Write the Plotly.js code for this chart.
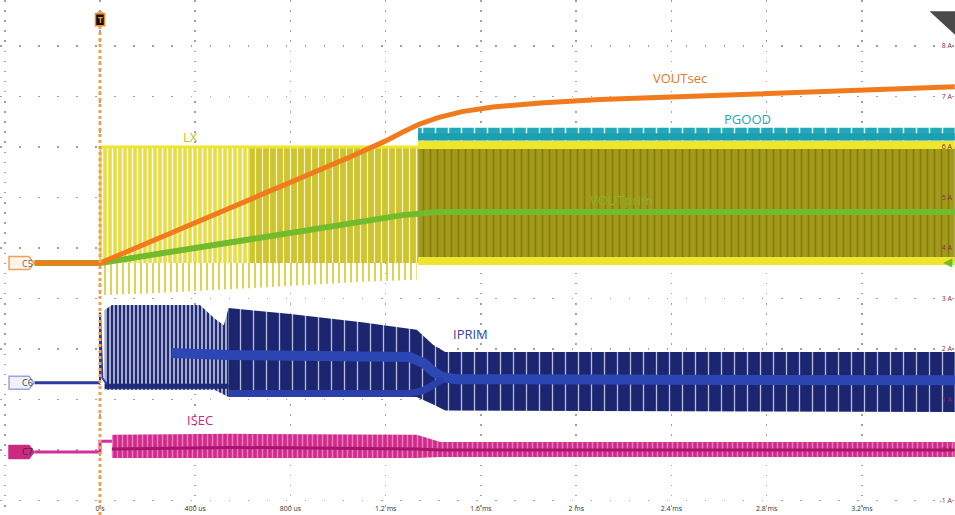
<!DOCTYPE html>
<html><head><meta charset="utf-8">
<script src="https://cdn.plot.ly/plotly-3.0.1.min.js"></script>
<style>html,body{margin:0;padding:0;background:#fff;}#chart{width:955px;height:515px;}</style>
</head><body><div id="chart"></div>
<script>
// time in ms, level in grid units of the right-hand scale
const xTickVals = [-0.4, 0, 0.4, 0.8, 1.2, 1.6, 2.0, 2.4, 2.8, 3.2];
const xTickText = ['', '0 s', '400 us', '800 us', '1.2 ms', '1.6 ms', '2 ms', '2.4 ms', '2.8 ms', '3.2 ms'];
const yTickVals = [-1, 0, 1, 2, 3, 4, 5, 6, 7, 8];
const yTickText = ['-1 A', '0 A', '1 A', '2 A', '3 A', '4 A', '5 A', '6 A', '7 A', '8 A'];

// VOUTsec (C5)
const voutSecT = [-0.275, 0, 1.05, 1.13, 1.20, 1.27, 1.34, 1.42, 1.52, 1.65, 1.85, 2.10, 2.52, 2.94, 3.36, 3.59];
const voutSecV = [3.70, 3.70, 5.80, 5.96, 6.12, 6.29, 6.45, 6.58, 6.70, 6.79, 6.87, 6.94, 7.01, 7.07, 7.15, 7.19];

// VOUTprim
const voutPrimT = [-0.275, 0, 1.27, 1.32, 1.37, 1.42, 3.59];
const voutPrimV = [3.70, 3.70, 4.65, 4.68, 4.70, 4.71, 4.71];

// PGOOD
const pgoodT = [1.336, 3.59];
const pgoodTopV = [6.38, 6.38];
const pgoodBotV = [6.13, 6.13];

// LX switching envelope, split in regions of different density
const lxRegionT = [0.0, 0.63, 1.336, 3.59];
const lxTopV = [6.00, 6.00, 6.00, 6.00];
const lxBotV = [3.70, 3.70, 3.70, 3.70];
const lxRingT = [0.01, 0.2, 0.5, 0.8, 1.1, 1.33];
const lxRingV = [3.07, 3.10, 3.17, 3.25, 3.33, 3.37];

// IPRIM (C6)
const iprimBaseT = [-0.275, 0.0];
const iprimBaseV = [1.33, 1.33];
const iprimSpikeT = [0.0, 0.0, 0.01, 0.03];
const iprimSpikeV = [1.33, 2.72, 1.42, 1.30];
const iprimT = [0.02, 0.05, 0.42, 0.48, 0.52, 0.54, 0.80, 1.10, 1.33, 1.40, 1.45, 3.59];
const iprimTopV = [2.77, 2.87, 2.87, 2.61, 2.47, 2.81, 2.69, 2.53, 2.38, 2.08, 1.94, 1.94];
const iprimBotV = [1.19, 1.19, 1.19, 1.19, 1.10, 1.05, 1.05, 1.05, 1.05, 0.90, 0.78, 0.75];
const iprimBandT = [0.30, 0.54, 1.30, 1.36, 1.40, 1.44, 1.50, 3.59];
const iprimBandV = [1.92, 1.88, 1.84, 1.72, 1.55, 1.44, 1.40, 1.38];
const iprimBand2T = [0.54, 1.30, 1.36, 1.40, 1.44];
const iprimBand2V = [1.12, 1.12, 1.18, 1.30, 1.40];

// ISEC (C7)
const isecBaseT = [-0.275, 0.0, 0.0, 0.05];
const isecBaseV = [-0.04, -0.04, 0.17, 0.17];
const isecT = [0.05, 0.55, 1.33, 1.43, 3.59];
const isecTopV = [0.30, 0.32, 0.30, 0.16, 0.16];
const isecBotV = [-0.16, -0.16, -0.16, -0.14, -0.14];
const isecMidV = [0.02, 0.05, 0.02, 0.0, 0.0];

// channel badges
const badgeNames = ['C5', 'C6', 'C7'];
const badgeLevels = [3.70, 1.33, -0.04];
const badgeFill = ['#fff4e8', '#eef0fa', '#cc2a80'];
const badgeLine = ['#f0a060', '#9aa4d8', '#cc2a80'];
const badgeText = ['#666666', '#444444', '#333333'];

function band(t, top, bot, i0, i1) {
  const x = [], y = [];
  for (let i = i0; i <= i1; i++) { x.push(t[i]); y.push(top[i]); }
  for (let i = i1; i >= i0; i--) { x.push(t[i]); y.push(bot[i]); }
  return {x, y};
}
function fillTrace(b, pattern) {
  return {type: 'scatter', mode: 'lines', x: b.x, y: b.y, fill: 'toself', line: {width: 0},
    fillcolor: pattern.bgcolor, fillpattern: pattern, hoverinfo: 'skip'};
}
function lineTrace(x, y, color, width) {
  return {type: 'scatter', mode: 'lines', x, y, line: {color, width}, hoverinfo: 'skip'};
}

const traces = [];
// LX
const lxStyles = [
  {shape: '|', bgcolor: '#e6de44', fgcolor: '#ffffff', size: 5, solidity: 0.28},
  {shape: '|', bgcolor: '#cdc430', fgcolor: '#f6f2c8', size: 7, solidity: 0.18},
  {shape: '|', bgcolor: '#a39a1a', fgcolor: '#867d10', size: 7, solidity: 0.25}
];
for (let i = 0; i < lxRegionT.length - 1; i++) {
  traces.push(fillTrace(band(lxRegionT, lxTopV, lxBotV, i, i + 1), lxStyles[i]));
}
const ringX = lxRingT.concat(lxRingT.slice().reverse());
const ringY = lxRingV.concat(lxRingV.map(() => 3.70));
traces.push({type: 'scatter', mode: 'lines', x: ringX, y: ringY, fill: 'toself', line: {width: 0},
  fillcolor: 'rgba(0,0,0,0)', fillpattern: {shape: '|', bgcolor: 'rgba(255,255,255,0)', fgcolor: '#d8d040', size: 6, solidity: 0.3}, hoverinfo: 'skip'});
traces.push(lineTrace([0, 0], [3.70, 6.0], '#e6de2a', 2));
traces.push(lineTrace([lxRegionT[0], lxRegionT[2]], [6.0, 6.0], '#eee62a', 3));
traces.push(lineTrace([lxRegionT[2], lxRegionT[3]], [6.04, 6.04], '#eee62a', 8));
traces.push(lineTrace([lxRegionT[2], lxRegionT[3]], [3.74, 3.74], '#eee62a', 8));

// PGOOD
traces.push(fillTrace(band(pgoodT, pgoodTopV, pgoodBotV, 0, 1), {shape: '|', bgcolor: '#22a8b8', fgcolor: '#d8f0f2', size: 13, solidity: 0.12}));
traces.push(lineTrace(pgoodT, pgoodBotV.map(v => v + 0.07), '#1c9fb0', 7));
// VOUTprim
traces.push(lineTrace(voutPrimT, voutPrimV, '#72bb2c', 6));
// VOUTsec
traces.push(lineTrace(voutSecT, voutSecV, '#f07a1c', 5));

// IPRIM
traces.push(fillTrace(band(iprimT, iprimTopV, iprimBotV, 0, 5), {shape: '|', bgcolor: '#1e2a78', fgcolor: '#ffffff', size: 4, solidity: 0.3}));
traces.push(fillTrace(band(iprimT, iprimTopV, iprimBotV, 5, iprimT.length - 1), {shape: '|', bgcolor: '#1c2670', fgcolor: '#b8bcd8', size: 13, solidity: 0.1}));
traces.push(lineTrace(iprimBaseT, iprimBaseV, '#2a3c9c', 3));
traces.push(lineTrace(iprimSpikeT, iprimSpikeV, '#2a3c9c', 2));
traces.push(lineTrace(iprimBandT, iprimBandV, '#2c46b4', 10));
traces.push(lineTrace(iprimBand2T, iprimBand2V, '#2a40a8', 7));
traces.push(lineTrace(iprimT.slice(0, 6), iprimT.slice(0, 6).map(() => 1.26), '#1e2a78', 5));

// ISEC
traces.push(fillTrace(band(isecT, isecTopV, isecBotV, 0, isecT.length - 1), {shape: '|', bgcolor: '#d02a8c', fgcolor: '#e87cb8', size: 5, solidity: 0.3}));
traces.push(lineTrace(isecT, isecMidV, '#a8166a', 3));
traces.push(lineTrace(isecBaseT, isecBaseV, '#d0309a', 3));

const yMin = -1.288, yMax = 8.91;
const shapes = [
  {type: 'line', xref: 'x', yref: 'y', x0: 0, x1: 0, y0: yMin, y1: 8.40, line: {color: '#f0a050', width: 3, dash: 'dot'}, layer: 'above'},
  {type: 'rect', xref: 'x', yref: 'y', x0: -0.019, x1: 0.019, y0: 8.40, y1: 8.64, fillcolor: '#111', line: {color: '#f08a30', width: 1.5}, layer: 'above'},
  {type: 'path', xref: 'x', yref: 'y', path: 'M -0.017 8.66 L 0.017 8.66 L 0 8.70 Z', fillcolor: '#f08a30', line: {width: 0}, layer: 'above'},
  {type: 'path', xref: 'paper', yref: 'paper', path: 'M 0.976 0.976 L 1 0.976 L 1 0.935 Z', fillcolor: '#4a4a4a', line: {color: '#4a4a4a', width: 2}, layer: 'above'}
];
const F = 'Open Sans, Liberation Sans, sans-serif';
const annotations = [
  {x: 2.436, y: 7.37, text: 'VOUTsec', showarrow: false, font: {family: F, size: 13, color: '#e8761e'}},
  {x: 2.72, y: 6.55, text: 'PGOOD', showarrow: false, font: {family: F, size: 13, color: '#22a8b8'}},
  {x: 0.378, y: 6.20, text: 'LX', showarrow: false, font: {family: F, size: 13, color: '#c8be2c'}},
  {x: 2.19, y: 4.95, text: 'VOUTprim', showarrow: false, font: {family: F, size: 13, color: '#86b42c'}},
  {x: 1.554, y: 2.30, text: 'IPRIM', showarrow: false, font: {family: F, size: 13, color: '#3448a8'}},
  {x: 0.42, y: 0.59, text: 'ISEC', showarrow: false, font: {family: F, size: 13, color: '#c8287a'}},
  {x: 0, y: 8.52, text: '<b>T</b>', showarrow: false, font: {family: F, size: 8, color: '#f0a050'}},
  {xref: 'paper', yref: 'y', x: 1, y: 3.72, text: '◀', showarrow: false, xanchor: 'right', font: {family: 'DejaVu Sans', size: 12, color: '#72bb2c'}}
];
// pentagon badges: left edge 9px, body to 29px, tip at 34px, half height 6.5px
const px = 1 / 955, unit = 1 / 50.5;
badgeNames.forEach((name, i) => {
  const y = badgeLevels[i], h = 6.5 * unit;
  shapes.push({type: 'path', xref: 'paper', yref: 'y',
    path: `M ${9 * px} ${y - h} L ${29 * px} ${y - h} L ${34 * px} ${y} L ${29 * px} ${y + h} L ${9 * px} ${y + h} Z`,
    fillcolor: badgeFill[i], line: {color: badgeLine[i], width: 1.5}, layer: 'above'});
  annotations.push({xref: 'paper', yref: 'y', x: 20 * px, y, text: name, showarrow: false,
    font: {family: F, size: 9, color: badgeText[i]}});
});

const layout = {
  width: 955, height: 515, margin: {l: 0, r: 0, t: 0, b: 0}, paper_bgcolor: '#fff', plot_bgcolor: '#fff',
  showlegend: false, hovermode: false,
  xaxis: {range: [-0.42, 3.591], tickvals: xTickVals, ticktext: xTickText, ticklabelposition: 'inside',
    tickfont: {family: F, size: 7, color: '#333'}, ticks: '', showgrid: true, gridcolor: '#a0a0a0', gridwidth: 1.5,
    griddash: '1.5px,8.6px', zeroline: false, showline: false, fixedrange: true},
  yaxis: {range: [yMin, yMax], side: 'right', tickvals: yTickVals, ticktext: yTickText, ticklabelposition: 'inside',
    tickfont: {family: F, size: 7, color: '#8a2858'}, ticks: '', showgrid: true, gridcolor: '#a0a0a0', gridwidth: 1.5,
    griddash: '1.5px,17.55px', zeroline: false, showline: false, fixedrange: true},
  shapes, annotations
};
Plotly.newPlot('chart', traces, layout, {staticPlot: true, displayModeBar: false});
</script></body></html>
